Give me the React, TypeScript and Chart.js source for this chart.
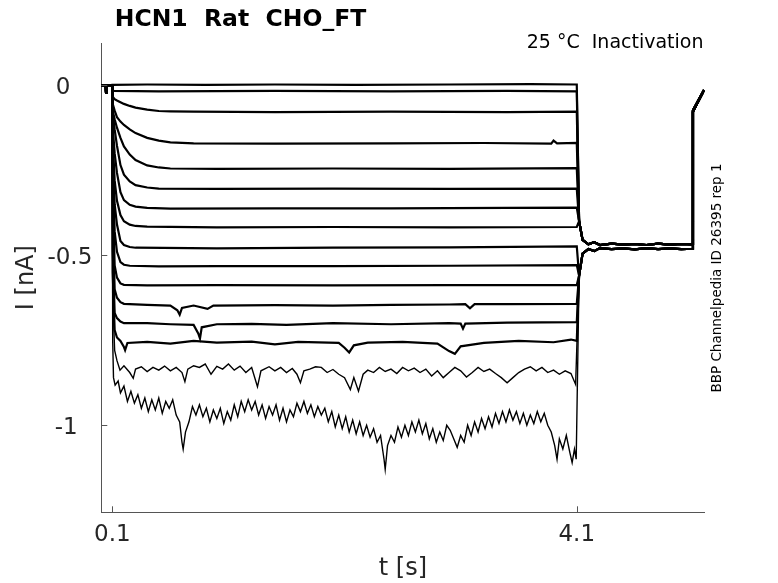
import React, { useEffect, useRef } from 'react';
import { Chart, registerables } from 'chart.js';
import type { ChartConfiguration, Plugin } from 'chart.js';

Chart.register(...registerables);

// [t (s), I (nA)] pairs
const preStep: [number, number][] = [[0.005, 0], [0.043, 0], [0.046, -0.022], [0.049, -0.003], [0.052, 0], [0.1, 0]];

const trace01: [number, number][] = [[0.101, 0.001], [0.4, 0.002], [0.9, 0.001], [1.5, 0.002], [2.2, 0.001], [3.0, 0.002], [3.7, 0.003], [4.1, 0.002]];
const trace02: [number, number][] = [[0.101, -0.012], [0.11, -0.017], [0.5, -0.018], [1.5, -0.017], [2.5, -0.018], [3.5, -0.017], [4.1, -0.018]];
const trace03: [number, number][] = [[0.101, -0.03], [0.105, -0.034], [0.12, -0.041], [0.14, -0.045], [0.17, -0.05], [0.2, -0.055], [0.25, -0.061], [0.3, -0.066], [0.4, -0.072], [0.5, -0.076], [0.6, -0.077], [0.8, -0.078], [1.5, -0.079], [2.5, -0.078], [3.5, -0.079], [4.1, -0.078]];
const trace04: [number, number][] = [[0.101, -0.045], [0.105, -0.055], [0.12, -0.075], [0.14, -0.094], [0.17, -0.107], [0.2, -0.117], [0.25, -0.13], [0.3, -0.141], [0.4, -0.155], [0.5, -0.163], [0.6, -0.168], [0.8, -0.171], [1.5, -0.172], [2.5, -0.171], [3.3, -0.17], [3.88, -0.172], [3.9, -0.163], [3.93, -0.171], [4.1, -0.17]];
const trace05: [number, number][] = [[0.101, -0.06], [0.105, -0.075], [0.12, -0.1], [0.14, -0.125], [0.17, -0.155], [0.2, -0.18], [0.25, -0.204], [0.3, -0.22], [0.4, -0.236], [0.5, -0.242], [0.6, -0.245], [1.0, -0.246], [2.0, -0.245], [3.0, -0.246], [4.1, -0.244]];
const trace06: [number, number][] = [[0.101, -0.06], [0.105, -0.08], [0.12, -0.13], [0.14, -0.178], [0.17, -0.235], [0.2, -0.263], [0.25, -0.283], [0.3, -0.294], [0.4, -0.301], [0.5, -0.304], [1.0, -0.305], [2.0, -0.304], [3.0, -0.305], [4.1, -0.304]];
const trace07: [number, number][] = [[0.101, -0.08], [0.105, -0.12], [0.12, -0.2], [0.14, -0.258], [0.17, -0.315], [0.2, -0.338], [0.25, -0.352], [0.3, -0.357], [0.4, -0.361], [0.6, -0.363], [1.5, -0.362], [2.5, -0.362], [3.5, -0.361], [4.1, -0.36]];
const trace08: [number, number][] = [[0.101, -0.1], [0.105, -0.16], [0.12, -0.28], [0.14, -0.34], [0.17, -0.382], [0.2, -0.4], [0.25, -0.41], [0.3, -0.414], [0.4, -0.416], [1.0, -0.418], [2.0, -0.417], [3.0, -0.418], [4.1, -0.417]];
const trace09: [number, number][] = [[0.101, -0.12], [0.105, -0.2], [0.12, -0.35], [0.14, -0.41], [0.17, -0.458], [0.2, -0.47], [0.25, -0.476], [0.3, -0.478], [1.0, -0.48], [2.0, -0.478], [3.0, -0.477], [4.1, -0.474]];
const trace10: [number, number][] = [[0.101, -0.15], [0.105, -0.25], [0.12, -0.43], [0.14, -0.49], [0.17, -0.52], [0.2, -0.528], [0.25, -0.531], [0.5, -0.533], [1.0, -0.532], [2.0, -0.532], [3.0, -0.531], [4.1, -0.529]];
const trace11: [number, number][] = [[0.101, -0.2], [0.105, -0.32], [0.12, -0.53], [0.14, -0.566], [0.17, -0.583], [0.2, -0.587], [0.4, -0.589], [1.0, -0.588], [2.0, -0.589], [3.0, -0.588], [4.1, -0.588]];
const trace12: [number, number][] = [[0.101, -0.25], [0.105, -0.4], [0.12, -0.6], [0.14, -0.625], [0.17, -0.638], [0.2, -0.643], [0.4, -0.646], [0.6, -0.648], [0.66, -0.662], [0.68, -0.675], [0.7, -0.655], [0.8, -0.648], [0.92, -0.658], [0.97, -0.648], [1.5, -0.647], [2.0, -0.648], [2.5, -0.646], [3.0, -0.645], [3.14, -0.644], [3.18, -0.656], [3.22, -0.644], [3.5, -0.644], [4.1, -0.643]];
const trace13: [number, number][] = [[0.101, -0.3], [0.105, -0.48], [0.12, -0.67], [0.14, -0.685], [0.17, -0.695], [0.2, -0.7], [0.4, -0.7], [0.6, -0.703], [0.8, -0.705], [0.84, -0.73], [0.855, -0.745], [0.87, -0.712], [1.0, -0.703], [1.3, -0.702], [1.6, -0.705], [2.0, -0.7], [2.5, -0.703], [3.0, -0.7], [3.1, -0.701], [3.12, -0.716], [3.14, -0.701], [3.5, -0.698], [4.1, -0.697]];
const trace14: [number, number][] = [[0.101, -0.35], [0.105, -0.55], [0.12, -0.72], [0.14, -0.742], [0.17, -0.752], [0.2, -0.77], [0.21, -0.779], [0.23, -0.758], [0.4, -0.755], [0.6, -0.76], [0.8, -0.752], [1.0, -0.757], [1.3, -0.754], [1.5, -0.762], [1.7, -0.755], [2.05, -0.758], [2.1, -0.772], [2.14, -0.786], [2.18, -0.765], [2.3, -0.757], [2.6, -0.755], [2.9, -0.76], [3.0, -0.782], [3.05, -0.79], [3.1, -0.768], [3.3, -0.758], [3.6, -0.752], [3.9, -0.756], [4.05, -0.748], [4.1, -0.752]];
const trace15: [number, number][] = [[0.101, -0.4], [0.105, -0.62], [0.12, -0.78], [0.14, -0.81], [0.166, -0.838], [0.2, -0.825], [0.25, -0.845], [0.28, -0.862], [0.3, -0.835], [0.35, -0.828], [0.4, -0.842], [0.45, -0.83], [0.5, -0.838], [0.55, -0.826], [0.6, -0.84], [0.65, -0.83], [0.7, -0.845], [0.725, -0.872], [0.75, -0.835], [0.8, -0.825], [0.85, -0.83], [0.9, -0.82], [0.95, -0.85], [1.0, -0.827], [1.05, -0.835], [1.1, -0.82], [1.15, -0.838], [1.2, -0.826], [1.25, -0.845], [1.3, -0.83], [1.35, -0.887], [1.38, -0.84], [1.45, -0.828], [1.5, -0.84], [1.55, -0.83], [1.6, -0.845], [1.65, -0.833], [1.69, -0.85], [1.72, -0.875], [1.75, -0.84], [1.8, -0.835], [1.85, -0.828], [1.9, -0.83], [1.95, -0.845], [2.0, -0.836], [2.05, -0.85], [2.1, -0.86], [2.15, -0.895], [2.18, -0.86], [2.22, -0.9], [2.26, -0.85], [2.3, -0.838], [2.35, -0.845], [2.4, -0.83], [2.45, -0.842], [2.5, -0.835], [2.55, -0.848], [2.6, -0.83], [2.65, -0.84], [2.7, -0.832], [2.75, -0.845], [2.8, -0.835], [2.85, -0.855], [2.9, -0.84], [2.95, -0.86], [3.0, -0.845], [3.05, -0.83], [3.1, -0.84], [3.15, -0.858], [3.2, -0.845], [3.25, -0.83], [3.3, -0.842], [3.35, -0.835], [3.4, -0.848], [3.45, -0.86], [3.5, -0.875], [3.55, -0.86], [3.6, -0.845], [3.65, -0.835], [3.7, -0.828], [3.75, -0.84], [3.8, -0.83], [3.85, -0.845], [3.9, -0.838], [3.95, -0.85], [4.0, -0.84], [4.05, -0.848], [4.09, -0.88]];
const trace16: [number, number][] = [[0.101, -0.45], [0.105, -0.75], [0.11, -0.86], [0.124, -0.882], [0.15, -0.87], [0.17, -0.905], [0.2, -0.885], [0.23, -0.93], [0.26, -0.9], [0.29, -0.935], [0.32, -0.91], [0.35, -0.95], [0.38, -0.92], [0.41, -0.96], [0.44, -0.925], [0.47, -0.955], [0.5, -0.92], [0.53, -0.965], [0.56, -0.93], [0.59, -0.95], [0.62, -0.925], [0.65, -0.97], [0.68, -0.99], [0.7, -1.05], [0.71, -1.07], [0.73, -1.02], [0.76, -0.99], [0.79, -0.945], [0.82, -0.97], [0.85, -0.94], [0.88, -0.975], [0.91, -0.95], [0.94, -0.99], [0.97, -0.955], [1.0, -0.98], [1.03, -0.95], [1.06, -0.995], [1.09, -0.96], [1.12, -0.985], [1.15, -0.94], [1.18, -0.975], [1.21, -0.93], [1.24, -0.96], [1.27, -0.925], [1.3, -0.955], [1.33, -0.93], [1.36, -0.97], [1.39, -0.94], [1.42, -0.98], [1.45, -0.945], [1.48, -0.97], [1.51, -0.94], [1.54, -0.985], [1.57, -0.95], [1.6, -0.99], [1.63, -0.955], [1.66, -0.975], [1.69, -0.935], [1.72, -0.96], [1.75, -0.93], [1.78, -0.965], [1.81, -0.94], [1.84, -0.975], [1.87, -0.945], [1.9, -0.97], [1.93, -0.95], [1.96, -0.99], [1.99, -0.96], [2.02, -1.005], [2.05, -0.97], [2.08, -1.01], [2.11, -0.975], [2.14, -1.02], [2.17, -0.985], [2.2, -1.025], [2.23, -0.99], [2.26, -1.03], [2.29, -1.0], [2.32, -1.035], [2.35, -1.01], [2.38, -1.05], [2.41, -1.03], [2.44, -1.1], [2.45, -1.13], [2.47, -1.06], [2.5, -1.03], [2.53, -1.05], [2.56, -1.005], [2.59, -1.035], [2.62, -1.0], [2.65, -1.03], [2.68, -0.99], [2.71, -1.02], [2.74, -0.985], [2.77, -1.025], [2.8, -0.995], [2.83, -1.04], [2.86, -1.01], [2.89, -1.05], [2.92, -1.02], [2.95, -1.045], [2.98, -1.0], [3.01, -1.015], [3.04, -1.04], [3.07, -1.065], [3.1, -1.03], [3.13, -1.05], [3.16, -1.0], [3.19, -1.03], [3.22, -0.99], [3.25, -1.02], [3.28, -0.98], [3.31, -1.01], [3.34, -0.975], [3.37, -1.005], [3.4, -0.965], [3.43, -0.995], [3.46, -0.96], [3.49, -0.99], [3.52, -0.955], [3.55, -0.985], [3.58, -0.96], [3.61, -0.995], [3.64, -0.965], [3.67, -1.0], [3.7, -0.97], [3.73, -0.995], [3.76, -0.96], [3.79, -0.99], [3.82, -0.965], [3.85, -1.0], [3.88, -1.02], [3.91, -1.06], [3.93, -1.1], [3.95, -1.04], [3.98, -1.07], [4.01, -1.03], [4.04, -1.08], [4.06, -1.11], [4.08, -1.07], [4.095, -1.1]];

// tail after the step back at 4.1 s, then the jump at 5.1 s
const tailTimes = [4.12, 4.15, 4.2, 4.25, 4.3, 4.4, 4.5, 4.6, 4.7, 4.8, 4.9, 5.0, 5.1, 5.1005, 5.195];
const tailUpper = [-0.4, -0.455, -0.468, -0.462, -0.47, -0.466, -0.469, -0.467, -0.47, -0.466, -0.469, -0.467, -0.468, -0.078, -0.016];
const tailLower = [-0.56, -0.495, -0.482, -0.488, -0.479, -0.482, -0.48, -0.483, -0.479, -0.482, -0.48, -0.482, -0.481, -0.074, -0.014];

const xTicks = [0.1, 4.1];
const xTickLabels = ['0.1', '4.1'];
const yTicks = [-1, -0.5, 0];
const yTickLabels = ['-1', '-0.5', '0'];

const traces = [trace01, trace02, trace03, trace04, trace05, trace06, trace07, trace08, trace09, trace10, trace11, trace12, trace13, trace14, trace15, trace16];

const FONT = '"DejaVu Sans", sans-serif';

const buildTrace = (steps: [number, number][], tail: number[]) =>
  [...preStep, ...steps, ...tailTimes.map((t, i) => [t, tail[i]] as [number, number])].map(([x, y]) => ({ x, y }));

// MATLAB pads shorter y labels so they sit like fixed-width strings
const yLabelWidth = Math.max(...yTickLabels.map(l => l.length));
const padYLabel = (l: string) => l + '\u00a0'.repeat(yLabelWidth - l.length);

const decor: Plugin<'line'> = {
  id: 'decor',
  afterDatasetsDraw(chart) {
    const { ctx, chartArea, scales } = chart;
    ctx.save();
    // inward tick marks
    ctx.strokeStyle = '#555';
    ctx.lineWidth = 1;
    ctx.beginPath();
    xTicks.forEach(v => {
      const px = Math.round(scales.x.getPixelForValue(v)) + 0.5;
      ctx.moveTo(px, chartArea.bottom);
      ctx.lineTo(px, chartArea.bottom - 6);
    });
    yTicks.forEach(v => {
      const py = Math.round(scales.y.getPixelForValue(v)) + 0.5;
      ctx.moveTo(chartArea.left, py);
      ctx.lineTo(chartArea.left + 6, py);
    });
    ctx.stroke();

    ctx.fillStyle = '#000';
    ctx.textBaseline = 'alphabetic';
    ctx.font = `bold 23.5px ${FONT}`;
    ctx.textAlign = 'center';
    ctx.fillText('HCN1  Rat  CHO_FT', 240.5, 26);

    ctx.font = `19px ${FONT}`;
    ctx.textAlign = 'right';
    ctx.fillText('25 °C  Inactivation', 703.5, 47.5);

    ctx.font = `13.5px ${FONT}`;
    ctx.textAlign = 'center';
    ctx.translate(721, 278);
    ctx.rotate(-Math.PI / 2);
    ctx.fillText('BBP Channelpedia ID 26395 rep 1', 0, 0);
    ctx.restore();
  }
};

export default function App() {
  const chartRef = useRef<HTMLCanvasElement>(null);

  useEffect(() => {
    if (!chartRef.current) return;

    const config: ChartConfiguration<'line'> = {
      type: 'line',
      data: {
        datasets: traces.map((tr, i) => ({
          label: `trace ${i + 1}`,
          data: buildTrace(tr, i < 8 ? tailUpper : tailLower),
          borderColor: '#000',
          borderWidth: i >= 14 ? 1.4 : 2.2,
          pointRadius: 0,
          tension: 0,
          fill: false
        }))
      },
      options: {
        animation: false,
        responsive: true,
        maintainAspectRatio: false,
        layout: { padding: { top: 43, right: 73.5, left: 0, bottom: 0 } },
        plugins: {
          legend: { display: false },
          tooltip: { enabled: false }
        },
        scales: {
          x: {
            type: 'linear',
            min: 0.005,
            max: 5.2,
            grid: { display: false, drawTicks: false },
            border: { display: true, color: '#555', width: 1 },
            afterBuildTicks: (s) => { s.ticks = xTicks.map(v => ({ value: v })); },
            afterFit: (s) => { s.height = 70.7; },
            ticks: {
              autoSkip: false,
              maxRotation: 0,
              padding: 9,
              color: '#262626',
              font: { family: FONT, size: 23 },
              callback: (v) => xTickLabels[xTicks.indexOf(Number(v))]
            },
            title: {
              display: true,
              text: 't [s]',
              color: '#262626',
              font: { family: FONT, size: 24 },
              padding: { top: 0, bottom: 0 }
            }
          },
          y: {
            type: 'linear',
            min: -1.256,
            max: 0.124,
            grid: { display: false, drawTicks: false },
            border: { display: true, color: '#555', width: 1 },
            afterBuildTicks: (s) => { s.ticks = yTicks.map(v => ({ value: v })); },
            afterFit: (s) => { s.width = 101.3; },
            ticks: {
              autoSkip: false,
              padding: 9,
              labelOffset: 3,
              color: '#262626',
              font: { family: FONT, size: 23 },
              callback: (v) => padYLabel(yTickLabels[yTicks.indexOf(Number(v))])
            },
            title: {
              display: true,
              text: 'I [nA]',
              color: '#262626',
              font: { family: FONT, size: 24 },
              padding: { top: 12.6, bottom: 0 }
            }
          }
        }
      },
      plugins: [decor]
    };

    const chart = new Chart(chartRef.current, config);
    return () => chart.destroy();
  }, []);

  return (
    <div style={{ position: 'fixed', left: 0, top: 0, width: 778, height: 583, background: '#fff' }}>
      <canvas ref={chartRef} />
    </div>
  );
}
